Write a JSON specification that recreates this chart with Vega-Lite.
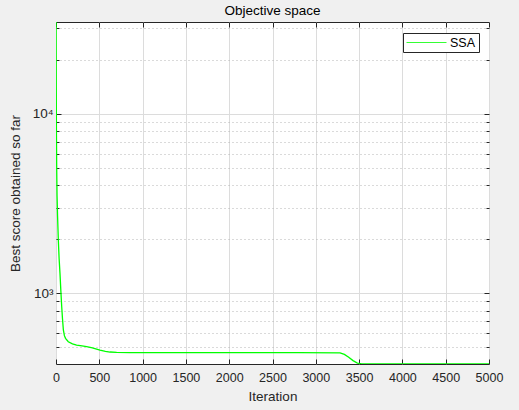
{
  "$schema": "https://vega.github.io/schema/vega-lite/v6.json",
  "autosize": "none",
  "width": 433,
  "height": 342,
  "padding": {"left": 56, "top": 22, "right": 30, "bottom": 46},
  "background": "#f0f0f0",
  "title": {"text": "Objective space", "fontSize": 13.5, "fontWeight": "normal", "font": "Liberation Sans", "color": "#000000", "offset": 4},
  "config": {
    "font": "Liberation Sans",
    "view": {"fill": "white", "stroke": "#262626", "strokeWidth": 1},
    "axis": {"domain": false, "labelFlush": false, "labelOverlap": false, "labelFont": "Liberation Sans", "titleFont": "Liberation Sans", "labelColor": "#262626", "titleColor": "#262626", "labelFontSize": 12.5, "titleFontSize": 13.5, "titleFontWeight": "normal", "tickColor": "#262626"}
  },
  "data": {"values": [
    {"iter": 1, "score": 32500, "algo": "SSA"},
    {"iter": 2, "score": 21000, "algo": "SSA"},
    {"iter": 3, "score": 14000, "algo": "SSA"},
    {"iter": 5, "score": 8000, "algo": "SSA"},
    {"iter": 8, "score": 5000, "algo": "SSA"},
    {"iter": 12, "score": 3500, "algo": "SSA"},
    {"iter": 18, "score": 2700, "algo": "SSA"},
    {"iter": 27, "score": 1970, "algo": "SSA"},
    {"iter": 36, "score": 1560, "algo": "SSA"},
    {"iter": 46, "score": 1290, "algo": "SSA"},
    {"iter": 56, "score": 1030, "algo": "SSA"},
    {"iter": 66, "score": 840, "algo": "SSA"},
    {"iter": 75, "score": 720, "algo": "SSA"},
    {"iter": 85, "score": 625, "algo": "SSA"},
    {"iter": 97, "score": 580, "algo": "SSA"},
    {"iter": 110, "score": 560, "algo": "SSA"},
    {"iter": 142, "score": 536, "algo": "SSA"},
    {"iter": 190, "score": 522, "algo": "SSA"},
    {"iter": 238, "score": 514, "algo": "SSA"},
    {"iter": 300, "score": 508, "algo": "SSA"},
    {"iter": 354, "score": 503, "algo": "SSA"},
    {"iter": 420, "score": 496, "algo": "SSA"},
    {"iter": 508, "score": 482, "algo": "SSA"},
    {"iter": 570, "score": 474, "algo": "SSA"},
    {"iter": 624, "score": 470, "algo": "SSA"},
    {"iter": 700, "score": 468, "algo": "SSA"},
    {"iter": 855, "score": 466, "algo": "SSA"},
    {"iter": 1200, "score": 466, "algo": "SSA"},
    {"iter": 2000, "score": 466, "algo": "SSA"},
    {"iter": 2800, "score": 466, "algo": "SSA"},
    {"iter": 3280, "score": 465, "algo": "SSA"},
    {"iter": 3330, "score": 456, "algo": "SSA"},
    {"iter": 3380, "score": 440, "algo": "SSA"},
    {"iter": 3430, "score": 421, "algo": "SSA"},
    {"iter": 3480, "score": 408, "algo": "SSA"},
    {"iter": 3530, "score": 404, "algo": "SSA"},
    {"iter": 3600, "score": 403, "algo": "SSA"},
    {"iter": 5000, "score": 403, "algo": "SSA"}
  ]},
  "layer": [
    {
      "mark": {"type": "line", "strokeWidth": 1.3, "clip": true},
      "encoding": {
        "x": {"field": "iter", "type": "quantitative", "title": "Iteration",
          "scale": {"domain": [0, 5000], "nice": false},
          "axis": {"values": [0,500,1000,1500,2000,2500,3000,3500,4000,4500,5000], "format": "d", "grid": true, "gridColor": "#dcdcdc", "tickSize": -5, "labelPadding": 12, "titlePadding": 6}},
        "y": {"field": "score", "type": "quantitative", "title": "Best score obtained so far",
          "scale": {"type": "log", "domain": [403, 32500], "nice": false},
          "axis": {"values": [500,600,700,800,900,1000,2000,3000,4000,5000,6000,7000,8000,9000,10000,20000,30000],
            "labelExpr": "datum.value === 1000 ? '10³' : datum.value === 10000 ? '10⁴' : ''",
            "grid": true,
            "gridColor": {"condition": {"test": "datum.value === 1000 || datum.value === 10000", "value": "#dcdcdc"}, "value": "#b4b4b4"},
            "gridDash": {"condition": {"test": "datum.value === 1000 || datum.value === 10000", "value": []}, "value": [1, 3]},
            "tickSize": {"condition": {"test": "datum.value === 1000 || datum.value === 10000", "value": -5}, "value": -3},
            "labelFontSize": 13.5,
            "labelPadding": 8, "titlePadding": 10}},
        "color": {"field": "algo", "type": "nominal", "scale": {"domain": ["SSA"], "range": ["#00ff00"]},
          "legend": {"title": null, "orient": "none", "legendX": 347, "legendY": 11, "strokeColor": "#262626", "fillColor": "white", "padding": 3, "symbolType": "stroke", "symbolSize": 1600, "clipHeight": 13, "symbolStrokeWidth": 0.8, "labelFontSize": 12.5, "labelColor": "#000000", "labelOffset": 3}}
      }
    },
    {
      "mark": {"type": "line", "opacity": 0},
      "encoding": {
        "x": {"field": "iter", "type": "quantitative", "axis": {"orient": "top", "values": [0,500,1000,1500,2000,2500,3000,3500,4000,4500,5000], "labels": false, "title": null, "grid": false, "tickSize": -5}},
        "y": {"field": "score", "type": "quantitative", "axis": {"orient": "right", "values": [500,600,700,800,900,1000,2000,3000,4000,5000,6000,7000,8000,9000,10000,20000,30000], "labels": false, "title": null, "grid": false,
          "tickSize": {"condition": {"test": "datum.value === 1000 || datum.value === 10000", "value": -5}, "value": -3}}}
      }
    }
  ],
  "resolve": {"axis": {"x": "independent", "y": "independent"}}
}
